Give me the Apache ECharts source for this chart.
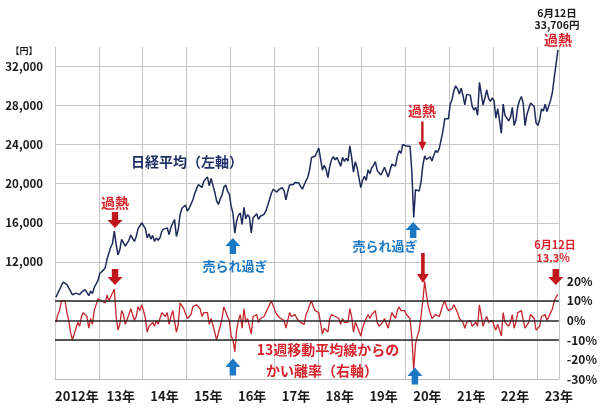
<!DOCTYPE html>
<html><head><meta charset="utf-8">
<script src="https://cdn.jsdelivr.net/npm/echarts@6/dist/echarts.min.js"></script>
<style>html,body{margin:0;padding:0;background:#fff}#c{width:600px;height:409px}</style>
</head><body><div id="c"></div>
<script>
// ---- tick labels ----
const yearLabels = ['2012年','13年','14年','15年','16年','17年','18年','19年','20年','21年','22年','23年'];
const leftTicks = [12000,16000,20000,24000,28000,32000];
const rightTicks = [-30,-20,-10,0,10,20];

// ---- Nikkei average (yen), two readings per month (early / late) ----
const nikkei2012 = [8390,8770,8950,9550,9930,10130,9690,9560,9000,8630,8540,8800,8890,8640,8890,9070,9160,9100,8530,9000,8760,9370,9530,10080];
const nikkei2013 = [10800,10900,11150,11400,12280,12400,13480,13880,15150,13780,12700,13230,14300,14130,13600,13660,14200,14740,14400,14090,14590,15380,15340,16000];
const nikkei2014 = [15910,15390,14460,14870,14330,14700,14100,14430,14200,14460,15120,15350,15160,15460,14780,15540,15950,16320,14600,15300,16800,17490,17370,17820];
const nikkei2015 = [17200,17510,17710,18330,18970,19470,19900,20020,19620,20260,20460,20700,19780,20550,20720,19140,18260,17880,18440,18830,19640,19880,19230,18900];
const nikkei2016 = [17700,16960,14950,16190,16780,17000,15820,17570,16410,16830,16600,14950,16500,16630,16920,16360,16670,16750,16860,17180,17370,18380,18990,19430];
const nikkei2017 = [19450,19140,19380,19280,19600,19260,18340,19200,19880,19690,19910,20130,19930,20100,19730,19450,19270,20300,20690,21460,22680,22550,22810,22900];
const nikkei2018 = [23650,23810,21380,21890,21470,20620,21780,22470,22760,22450,22690,22520,21790,22700,22300,22600,22310,23870,22700,21180,22250,21650,21680,19600];
const nikkei2019 = [20360,20770,20330,21430,21030,21630,21870,22260,21340,21120,20890,21260,21690,21660,20680,20710,21990,21880,21800,22800,23390,23110,24020,23840];
const nikkei2020 = [23850,23830,23830,21140,16550,19390,19500,19260,20180,21880,22860,22480,22290,22750,22330,22920,23410,23200,23620,23520,25390,26640,26650,26660];
const nikkei2021 = [28140,28630,29520,30020,29720,29180,29770,29020,28080,29150,28950,29070,27940,27550,27820,27010,30380,30250,28050,28800,29610,28750,28440,28780];
const nikkei2022 = [28480,26720,27700,26480,25160,28150,26990,27110,26430,26780,27820,25960,26520,27910,28550,28930,28210,25940,27090,27110,28260,28280,27900,26240];
const nikkei2023 = [25970,26550,27670,27450,28140,27390,27520,28560,29390,30920,32270,33706];

// ---- deviation from 13-week moving average (%), same dates ----
const dev2012 = [-1,3,5,10,11,10,4,0,-6,-10,-9,-4,-1,-3,2,4,4,2,-4,1,-2,5,6,11];
const dev2013 = [12,10,10,9,13,10,12,14,16,2,-5,-2,5,3,-2,-1,3,6,3,0,2,7,5,8];
const dev2014 = [5,1,-6,-3,-4,-1,-3,0,-2,1,4,4,2,4,-2,2,5,6,-6,-2,9,10,6,6];
const dev2015 = [1,2,3,7,8,8,7,6,2,4,4,4,-2,1,2,-6,-10,-9,-3,1,7,6,2,0];
const dev2016 = [-8,-10,-16,-5,0,3,-4,6,-1,1,0,-7,2,3,3,-1,1,1,2,4,4,8,10,9];
const dev2017 = [5,3,2,1,2,0,-4,0,4,2,2,3,1,1,-1,-2,-2,3,5,8,10,7,5,4];
const dev2018 = [4,4,-7,-4,-3,-6,1,3,4,2,2,1,-2,1,-1,0,-1,6,2,-6,-1,-3,-2,-8];
const dev2019 = [-4,-1,-2,3,1,3,4,5,-1,-3,-3,-1,1,1,-4,-3,4,3,1,5,7,5,6,5];
const dev2020 = [3,2,1,-9,-25,-12,-8,-5,2,10,20,13,7,6,1,2,3,2,2,1,8,10,7,5];
const dev2021 = [6,6,8,7,4,1,2,-1,-4,-1,0,0,-3,-4,-1,-3,8,7,-3,0,2,-1,-2,0];
const dev2022 = [1,-5,-2,-5,-8,4,-1,-2,-3,-1,3,-4,-1,4,4,5,0,-4,-3,-1,3,3,1,-5];
const dev2023 = [-5,-3,2,1,3,0,1,4,6,10,12,13.3];

const nikkeiByYear = [nikkei2012,nikkei2013,nikkei2014,nikkei2015,nikkei2016,nikkei2017,nikkei2018,nikkei2019,nikkei2020,nikkei2021,nikkei2022,nikkei2023];
const devByYear = [dev2012,dev2013,dev2014,dev2015,dev2016,dev2017,dev2018,dev2019,dev2020,dev2021,dev2022,dev2023];
const firstYear = 2012;

function toPoints(byYear) {
  const pts = [];
  byYear.forEach((arr, yi) => {
    arr.forEach((v, i) => {
      const t = firstYear + yi + (Math.floor(i / 2) + 0.25 + 0.5 * (i % 2)) / 12;
      pts.push([t, v]);
    });
  });
  return pts;
}

const RED = '#d8232c', DARKRED = '#c0161e', BLUE = '#1c78c4', NAVY = '#1e3066';
const FONT = '"Noto Sans CJK JP", "Noto Sans", sans-serif';
const downArrow = 'path://M4,0 L10,0 L10,7 L14,7 L7,14 L0,7 L4,7 Z';
const upArrow = 'path://M7,0 L14,7 L10,7 L10,14 L4,14 L4,7 L0,7 Z';
const thinDown = 'path://M3.5,0 L6.5,0 L6.5,21 L10,21 L5,30 L0,21 L3.5,21 Z';

// annotation arrows, in data units (year, yen)
const arrows = [
  {coord:[2013.37, 16280], symbol:downArrow, symbolSize:[15,16], itemStyle:{color:DARKRED}},
  {coord:[2013.37, 10450], symbol:downArrow, symbolSize:[15,16], itemStyle:{color:DARKRED}},
  {coord:[2016.06, 13620], symbol:upArrow, symbolSize:[15,16], itemStyle:{color:BLUE}},
  {coord:[2016.06, 1230], symbol:upArrow, symbolSize:[15,17], itemStyle:{color:BLUE}},
  {coord:[2020.385, 24890], symbol:thinDown, symbolSize:[8,29], itemStyle:{color:DARKRED}},
  {coord:[2020.397, 11370], symbol:thinDown, symbolSize:[12,30], itemStyle:{color:DARKRED}},
  {coord:[2020.175, 15260], symbol:upArrow, symbolSize:[15,16], itemStyle:{color:BLUE}},
  {coord:[2020.214, 300], symbol:upArrow, symbolSize:[15,17], itemStyle:{color:BLUE}},
  {coord:[2023.43, 10450], symbol:downArrow, symbolSize:[15,16], itemStyle:{color:DARKRED}}
];

function txt(text, x, y, color, size, weight) {
  return {type:'text', x:x, y:y, z:100, style:{text:text, fill:color, font:(weight||'bold') + ' ' + size + 'px ' + FONT, textAlign:'center', textVerticalAlign:'middle'}};
}

const chart = echarts.init(document.getElementById('c'), null, {renderer:'canvas'});
chart.setOption({
  animation: false,
  backgroundColor: '#fff',
  grid: {left:55, right:41, top:47, bottom:30, containLabel:false},
  xAxis: [
    {type:'value', min:2012, max:2023.5, interval:1,
     axisLine:{show:true, lineStyle:{color:'#bdbdbd', width:1}}, axisTick:{show:false}, axisLabel:{show:false},
     splitLine:{show:true, lineStyle:{color:'#c6c6c6', width:1}}},
    {type:'value', min:2012, max:2023.5, interval:0.5, position:'bottom',
     axisLine:{show:false}, axisTick:{show:false}, splitLine:{show:false},
     axisLabel:{margin:11, color:'#1a1a1a', fontSize:13, fontWeight:'bold', fontFamily:FONT,
       formatter: v => (Math.abs(v % 1 - 0.5) < 1e-6 ? yearLabels[Math.floor(v) - firstYear] : '')}}
  ],
  yAxis: [
    {type:'value', min:0, max:34000, interval:4000, position:'left',
     axisLine:{show:false}, axisTick:{show:false},
     axisLabel:{margin:12, color:'#1a1a1a', fontSize:11.5, fontWeight:'bold', fontFamily:FONT,
       formatter: v => (leftTicks.includes(v) ? v.toLocaleString('en-US') : '')},
     splitLine:{show:true, showMaxLine:false, lineStyle:{color:'#c6c6c6', width:1}}},
    {type:'value', min:-30, max:140, interval:10, position:'right',
     axisLine:{show:false}, axisTick:{show:false}, splitLine:{show:false},
     axisLabel:{margin:8, color:'#1a1a1a', fontSize:12, fontWeight:'bold', fontFamily:FONT,
       formatter: v => (rightTicks.includes(v) ? v + '%' : '')}}
  ],
  series: [
    {type:'line', name:'かい離率', xAxisIndex:0, yAxisIndex:1, data: toPoints(devByYear),
     symbol:'none', lineStyle:{color:'#c3262d', width:1.3}, z:2,
     markLine:{silent:true, symbol:'none', label:{show:false}, animation:false,
       lineStyle:{color:'#262626', width:1.5, type:'solid'},
       data:[{yAxis:10},{yAxis:0},{yAxis:-10}]}},
    {type:'line', name:'日経平均', xAxisIndex:0, yAxisIndex:0, data: toPoints(nikkeiByYear),
     symbol:'none', lineStyle:{color:'#1d2a5a', width:1.5}, z:3,
     markPoint:{silent:true, label:{show:false}, animation:false, data: arrows}}
  ],
  graphic: [
    txt('【円】', 24, 51, '#1a1a1a', 9),
    txt('6月12日', 557, 13, '#1a1a1a', 10.5),
    txt('33,706円', 557, 25, '#1a1a1a', 10.5),
    txt('過熱', 558, 40, RED, 14),
    txt('過熱', 115, 203, RED, 14),
    txt('日経平均（左軸）', 187, 162, NAVY, 14),
    txt('売られ過ぎ', 235, 266, BLUE, 13),
    txt('過熱', 422, 111, RED, 14),
    txt('売られ過ぎ', 385, 246, BLUE, 13),
    txt('6月12日', 555, 245, RED, 11),
    txt('13.3%', 553, 258, RED, 11),
    txt('13週移動平均線からの', 328, 350, RED, 14),
    txt('かい離率（右軸）', 322, 371, RED, 14)
  ]
});
</script>
</body></html>
